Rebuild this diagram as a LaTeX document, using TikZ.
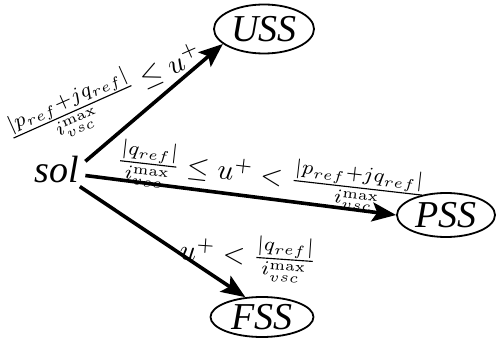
\documentclass[tikz,border=0pt]{standalone}
\usepackage{amsmath}
\usepackage[no-math]{fontspec}
\setmainfont{Liberation Serif}
\newfontfamily\statefont{Liberation Serif Italic}
\usetikzlibrary{shapes.geometric,arrows.meta}

\begin{document}
\begin{tikzpicture}[x=1pt,y=-1pt,
  state/.style={ellipse,draw,line width=1.8pt,inner sep=0pt,font=\fontsize{38}{40}\selectfont\statefont},
  cond/.style={scale=2.85,transform shape,inner sep=0pt},
  flow/.style={line width=3.6pt,-{Stealth[length=24pt,width=19pt,inset=5pt]}}]
\useasboundingbox (0,0) rectangle (496,339);
\node[font=\fontsize{38}{40}\selectfont\statefont,inner xsep=6pt,inner ysep=3pt] (sol) at (57,170) {sol};
\node[state,minimum width=100pt,minimum height=49pt] (uss) at (264,29) {USS};
\node[state,minimum width=98pt,minimum height=44pt] (pss) at (446,215) {PSS};
\node[state,minimum width=103pt,minimum height=40pt] (fss) at (262,317) {FSS};

\draw[flow] (sol.17) -- (uss.200);
\draw[flow] (sol.-11) -- (pss.west);
\draw[flow] (sol.-36) -- (fss.130);

% conditions on each branch
\node[cond,rotate=24] (cu) at (106,97) {$\frac{|p_{ref}+jq_{ref}|}{i_{vsc}^{\max}} \leq u^+$};
\node[cond,rotate=-6.5] (cp) at (271,178) {$\frac{|q_{ref}|}{i_{vsc}^{\max}} \leq u^+ < \frac{|p_{ref}+jq_{ref}|}{i_{vsc}^{\max}}$};
\node[cond,rotate=-4] (cf) at (248,257) {$u^+ < \frac{|q_{ref}|}{i_{vsc}^{\max}}$};
\end{tikzpicture}
\end{document}
